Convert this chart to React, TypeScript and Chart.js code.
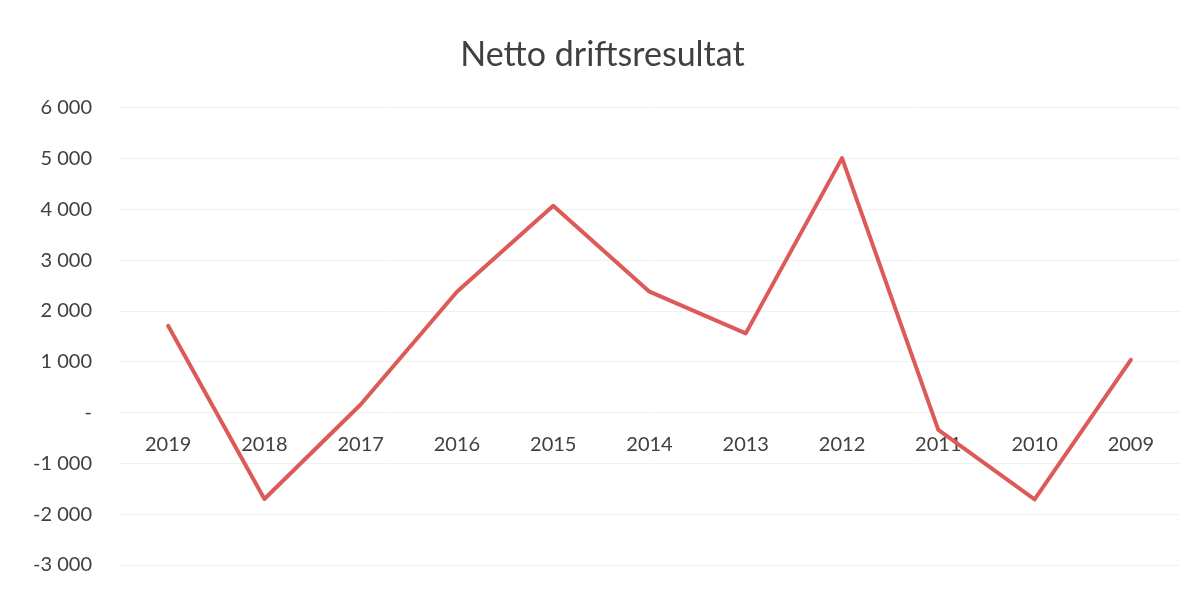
import React, { useEffect, useRef } from "react";
import { Chart, registerables } from "chart.js";

Chart.register(...registerables);

const years = ["2019", "2018", "2017", "2016", "2015", "2014", "2013", "2012", "2011", "2010", "2009"];
const nettoDriftsresultat = [1710, -1700, 160, 2380, 4070, 2380, 1560, 5010, -340, -1710, 1040];
const yMin = -3000;
const yMax = 6000;
const yStep = 1000;
const chartTitle = "Netto driftsresultat";

const fmt = (v: number) => {
  if (v === 0) return "-";
  const s = Math.abs(v).toString().replace(/\B(?=(\d{3})+(?!\d))/g, " ");
  return (v < 0 ? "-" : "") + s;
};

export default function App() {
  const ref = useRef<HTMLCanvasElement>(null);
  useEffect(() => {
    if (!ref.current) return;
    const chart = new Chart(ref.current, {
      type: "line",
      data: {
        labels: years,
        datasets: [
          {
            label: chartTitle,
            data: nettoDriftsresultat,
            borderColor: "#DC5A57",
            borderWidth: 4,
            pointRadius: 0,
            borderJoinStyle: "round",
            borderCapStyle: "round",
            tension: 0,
          },
        ],
      },
      options: {
        animation: false,
        responsive: false,
        devicePixelRatio: 1,
        layout: { padding: { left: 26, right: 25, bottom: 24, top: 0 } },
        plugins: {
          legend: { display: false },
          tooltip: { enabled: false },
          title: {
            display: true,
            text: chartTitle,
            color: "#404040",
            font: { family: "Lato", size: 34, weight: "normal" },
            padding: { top: 35, bottom: 32 },
          },
        },
        scales: {
          x: {
            position: { y: 0 },
            offset: true,
            grid: { display: false, drawTicks: false },
            border: { display: false },
            ticks: {
              color: "#404040",
              font: { family: "Lato", size: 20 },
              padding: 20,
              maxRotation: 0,
              autoSkip: false,
            },
          },
          y: {
            min: yMin,
            max: yMax,
            afterFit: (scale: any) => {
              scale.width = 94;
              scale.paddingTop = 12;
              scale.paddingBottom = 12;
            },
            grid: { color: "rgba(0,0,0,0.06)", drawTicks: false, lineWidth: 1 },
            border: { display: false },
            ticks: {
              stepSize: yStep,
              color: "#404040",
              font: { family: "Lato", size: 20 },
              padding: 28,
              callback: (v: any) => fmt(Number(v)),
            },
          },
        },
      },
    });
    return () => chart.destroy();
  }, []);
  return (
    <div style={{ position: "fixed", left: 0, top: 0, width: 1204, height: 589, background: "#fff" }}>
      <canvas ref={ref} width={1204} height={589} style={{ display: "block" }} />
    </div>
  );
}
